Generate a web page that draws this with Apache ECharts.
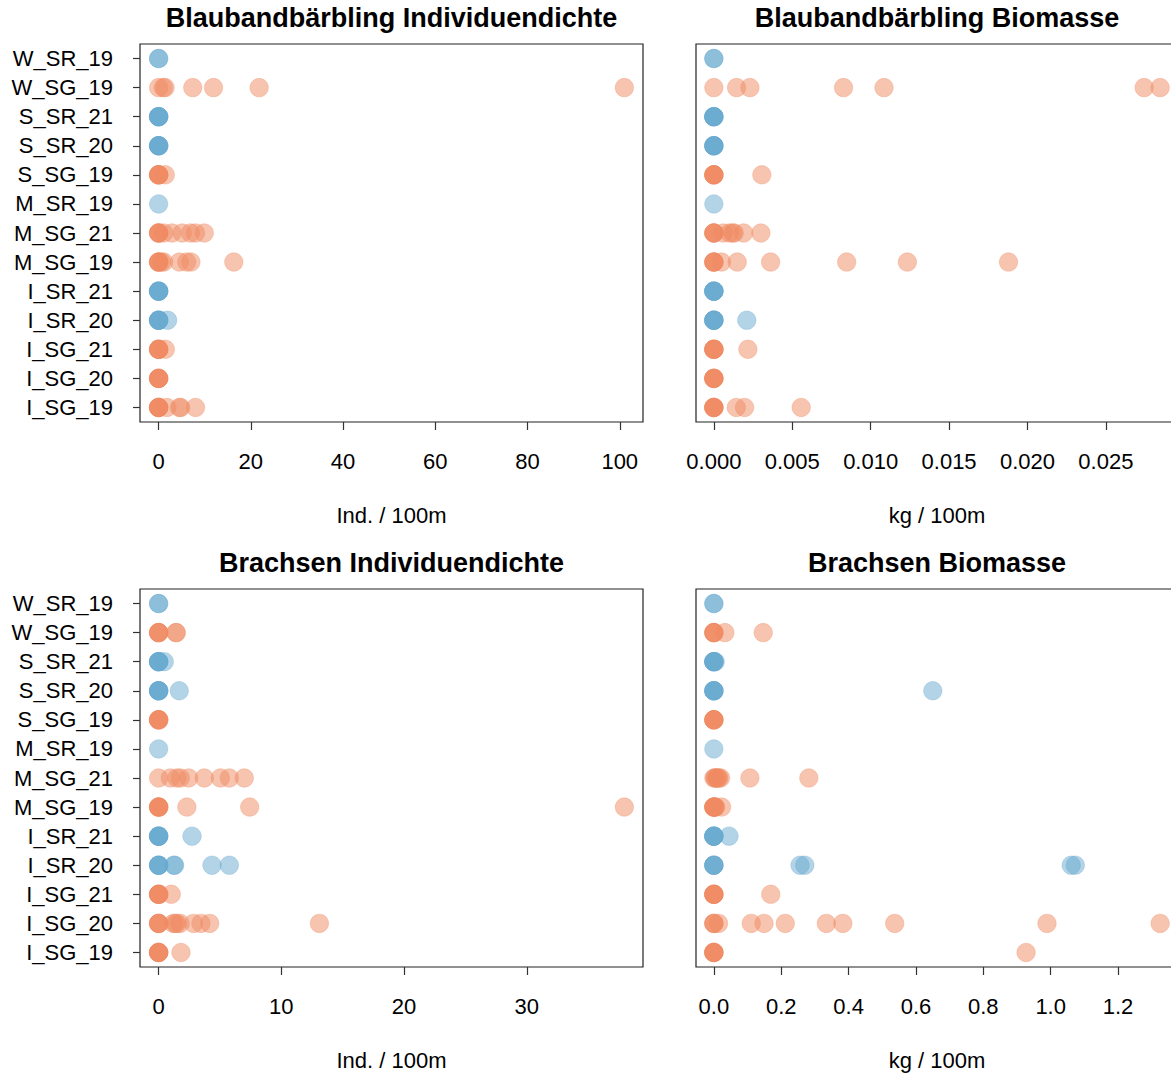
<!DOCTYPE html>
<html>
<head>
<meta charset="utf-8">
<script src="https://cdn.jsdelivr.net/npm/echarts@6/dist/echarts.min.js"></script>
<style>
  html, body { margin: 0; padding: 0; background: #ffffff; }
  #chart { width: 1171px; height: 1074px; }
</style>
</head>
<body>
<div id="chart"></div>
<script>
// Sites, bottom to top
const sites = ['I_SG_19', 'I_SG_20', 'I_SG_21', 'I_SR_20', 'I_SR_21', 'M_SG_19', 'M_SG_21',
               'M_SR_19', 'S_SG_19', 'S_SR_20', 'S_SR_21', 'W_SG_19', 'W_SR_19'];

// Blaubandbärbling, Ind. / 100m
const bbDichte = {
  I_SG_19: [0, 0, 0, 0, 0, 1.8, 4.5, 4.8, 8.0],
  I_SG_20: [0, 0, 0, 0, 0],
  I_SG_21: [0, 0, 0, 0, 0, 1.45],
  I_SR_20: [0, 0, 0, 0, 0, 1.95],
  I_SR_21: [0, 0, 0, 0, 0],
  M_SG_19: [0, 0, 0, 0, 0.6, 1.1, 4.5, 6.1, 7.0, 16.3],
  M_SG_21: [0, 0, 0, 0, 1.1, 2.9, 5.1, 6.9, 8.0, 9.9],
  M_SR_19: [0],
  S_SG_19: [0, 0, 0, 0, 0, 1.45],
  S_SR_20: [0, 0, 0, 0, 0],
  S_SR_21: [0, 0, 0, 0, 0],
  W_SG_19: [0, 1.0, 1.4, 7.4, 11.9, 21.8, 101],
  W_SR_19: [0, 0]
};

// Blaubandbärbling, kg / 100m
const bbBiomasse = {
  I_SG_19: [0, 0, 0, 0, 0, 0.00143, 0.00196, 0.00557],
  I_SG_20: [0, 0, 0, 0, 0],
  I_SG_21: [0, 0, 0, 0, 0, 0.00217],
  I_SR_20: [0, 0, 0, 0, 0, 0.0021],
  I_SR_21: [0, 0, 0, 0, 0],
  M_SG_19: [0, 0, 0, 0, 0.00049, 0.00149, 0.00362, 0.00847, 0.01234, 0.01879],
  M_SG_21: [0, 0, 0, 0, 0.0006, 0.001, 0.0012, 0.0013, 0.0019, 0.003],
  M_SR_19: [0],
  S_SG_19: [0, 0, 0, 0, 0, 0.00306],
  S_SR_20: [0, 0, 0, 0, 0],
  S_SR_21: [0, 0, 0, 0, 0],
  W_SG_19: [0, 0.00145, 0.0023, 0.00827, 0.01085, 0.02744, 0.02846],
  W_SR_19: [0, 0]
};

// Brachsen, Ind. / 100m
const brDichte = {
  I_SG_19: [0, 0, 0, 0, 0, 1.82],
  I_SG_20: [0, 0, 0, 0, 1.2, 1.35, 1.5, 1.75, 2.85, 3.45, 4.16, 13.1],
  I_SG_21: [0, 0, 0, 0, 0, 1.03],
  I_SR_20: [0, 0, 0, 0, 1.25, 1.3, 4.35, 5.76],
  I_SR_21: [0, 0, 0, 0, 0, 2.72],
  M_SG_19: [0, 0, 0, 0, 0, 2.3, 7.42, 37.95],
  M_SG_21: [0, 0.95, 1.49, 1.77, 2.45, 3.72, 5.03, 5.76, 6.98],
  M_SR_19: [0],
  S_SG_19: [0, 0, 0, 0, 0],
  S_SR_20: [0, 0, 0, 0, 0, 1.68],
  S_SR_21: [0, 0, 0, 0, 0, 0.46],
  W_SG_19: [0, 0, 0, 0, 1.4, 1.45],
  W_SR_19: [0, 0]
};

// Brachsen, kg / 100m
const brBiomasse = {
  I_SG_19: [0, 0, 0, 0, 0, 0.927],
  I_SG_20: [0, 0, 0, 0.014, 0.111, 0.149, 0.212, 0.334, 0.383, 0.537, 0.989, 1.325],
  I_SG_21: [0, 0, 0, 0, 0, 0.169],
  I_SR_20: [0, 0, 0, 0, 0.256, 0.27, 1.061, 1.073],
  I_SR_21: [0, 0, 0, 0, 0, 0.045],
  M_SG_19: [0, 0, 0, 0, 0, 0.005, 0.023, 0.004],
  M_SG_21: [0, 0.003, 0.006, 0.009, 0.012, 0.015, 0.02, 0.107, 0.282],
  M_SR_19: [0],
  S_SG_19: [0, 0, 0, 0, 0],
  S_SR_20: [0, 0, 0, 0, 0, 0.65],
  S_SR_21: [0, 0, 0, 0, 0, 0.004],
  W_SG_19: [0, 0, 0, 0, 0.0327, 0.1466],
  W_SR_19: [0, 0]
};

// Panel titles and axis ticks
const titles = ['Blaubandbärbling Individuendichte', 'Blaubandbärbling Biomasse',
                'Brachsen Individuendichte', 'Brachsen Biomasse'];
const unitDichte = 'Ind. / 100m';
const unitBiomasse = 'kg / 100m';
const ticksBbDichte = [0, 20, 40, 60, 80, 100];
const ticksBbBiomasse = [0, 0.005, 0.01, 0.015, 0.02, 0.025];
const ticksBrDichte = [0, 10, 20, 30];
const ticksBrBiomasse = [0, 0.2, 0.4, 0.6, 0.8, 1.0, 1.2];

const FONT = "'Liberation Sans', Arial, Helvetica, sans-serif";
const ORANGE = 'rgba(239,138,98,0.5)';
const BLUE = 'rgba(103,169,207,0.5)';

// Axis range padded 4% on each side of the data
function padded(values) {
  let hi = 0;
  sites.forEach(s => values[s].forEach(v => { if (v > hi) hi = v; }));
  const pad = hi * 0.04;
  return [-pad, hi + pad];
}

const panels = [
  { data: bbDichte,   ticks: ticksBbDichte,   unit: unitDichte,   digits: 0, left: 140, top: 44,  width: 503, labels: true },
  { data: bbBiomasse, ticks: ticksBbBiomasse, unit: unitBiomasse, digits: 3, left: 696, top: 44,  width: 482, labels: false },
  { data: brDichte,   ticks: ticksBrDichte,   unit: unitDichte,   digits: 0, left: 140, top: 589, width: 503, labels: true },
  { data: brBiomasse, ticks: ticksBrBiomasse, unit: unitBiomasse, digits: 1, left: 696, top: 589, width: 482, labels: false }
];
const PANEL_H = 378;

const grid = [], xAxis = [], yAxis = [], series = [], graphic = [];

panels.forEach((p, i) => {
  const range = padded(p.data);
  grid.push({
    left: p.left, top: p.top, width: p.width, height: PANEL_H,
    show: true, borderColor: '#222', borderWidth: 1.2, backgroundColor: 'transparent',
    containLabel: false, outerBoundsMode: 'none'
  });
  xAxis.push({
    type: 'value', gridIndex: i, min: range[0], max: range[1],
    axisLine: { show: false, onZero: false },
    splitLine: { show: false },
    axisTick: { show: true, length: 8, customValues: p.ticks, lineStyle: { color: '#333', width: 1.2 } },
    axisLabel: {
      customValues: p.ticks, margin: 28, fontSize: 22, color: '#000', fontFamily: FONT,
      formatter: v => Number(v).toFixed(p.digits)
    },
    name: p.unit, nameLocation: 'middle', nameGap: 82,
    nameTextStyle: { fontSize: 22, color: '#000', fontFamily: FONT }
  });
  yAxis.push({
    type: 'category', gridIndex: i, data: sites, boundaryGap: true,
    axisLine: { show: false, onZero: false },
    splitLine: { show: false },
    axisTick: { show: p.labels, alignWithLabel: true, length: 7, lineStyle: { color: '#333', width: 1.2 } },
    axisLabel: { show: p.labels, margin: 27, fontSize: 22, color: '#000', fontFamily: FONT }
  });

  const sg = [], sr = [];
  sites.forEach((s, k) => {
    p.data[s].forEach(v => (s.indexOf('_SG_') >= 0 ? sg : sr).push([v, k]));
  });
  [[sg, ORANGE], [sr, BLUE]].forEach(([pts, col]) => {
    series.push({
      type: 'scatter', xAxisIndex: i, yAxisIndex: i, data: pts,
      symbol: 'circle', symbolSize: 18.5,
      itemStyle: { color: col, borderColor: col, borderWidth: 0.6, opacity: 1 },
      emphasis: { disabled: true }, silent: true
    });
  });

  graphic.push({
    type: 'text', x: p.left + p.width / 2, y: p.top - 26,
    style: {
      text: titles[i], fill: '#000', textAlign: 'center', textVerticalAlign: 'middle',
      font: 'bold 27px ' + FONT
    }
  });
});

const chart = echarts.init(document.getElementById('chart'), null, { renderer: 'svg' });
chart.setOption({
  backgroundColor: '#ffffff',
  animation: false,
  grid, xAxis, yAxis, series, graphic
});
</script>
</body>
</html>
